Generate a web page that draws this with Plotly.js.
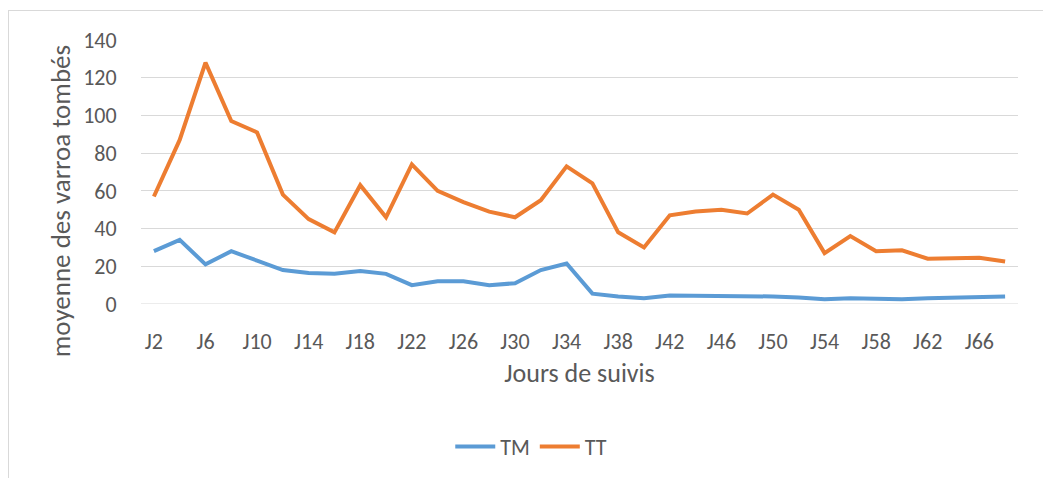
<!DOCTYPE html>
<html>
<head>
<meta charset="utf-8">
<script src="https://cdn.plot.ly/plotly-3.0.1.min.js"></script>
<style>
  body { margin: 0; background: #fff; }
  #frame { position: absolute; left: 8px; top: 10px; width: 1100px; height: 520px; border: 1px solid #d9d9d9; }
  #chart { position: absolute; left: 0; top: 0; width: 1043px; height: 478px; }
</style>
</head>
<body>
<div id="frame"></div>
<div id="chart"></div>
<script>
// days J2..J68, every 2 days
const days = ['J2','J4','J6','J8','J10','J12','J14','J16','J18','J20','J22','J24','J26','J28','J30','J32','J34',
  'J36','J38','J40','J42','J44','J46','J48','J50','J52','J54','J56','J58','J60','J62','J64','J66','J68'];
const tickDays = ['J2','J6','J10','J14','J18','J22','J26','J30','J34','J38','J42','J46','J50','J54','J58','J62','J66'];

const tm = [28, 34, 21, 28, 23, 18, 16.5, 16, 17.5, 16, 10, 12, 12, 10, 11, 18, 21.5,
  5.5, 4, 3, 4.5, 4.5, 4, 4, 4, 3.5, 2.5, 3, 2.5, 2.5, 3, 3.5, 3.5, 4];
const tt = [57, 87, 128, 97, 91, 58, 45, 38, 63, 46, 74, 60, 54, 49, 46, 55, 73,
  64, 38, 30, 47, 49, 50, 48, 58, 50, 27, 36, 28, 28.5, 24, 24.5, 24.5, 22.5];

const font = 'Carlito, Lato, "Open Sans", sans-serif';

Plotly.newPlot('chart', [
  { x: days, y: tm, mode: 'lines', name: 'TM', line: { color: '#5b9bd5', width: 4 } },
  { x: days, y: tt, mode: 'lines', name: 'TT', line: { color: '#ed7d31', width: 4 } },
], {
  width: 1043, height: 478,
  margin: { l: 141, r: 25, t: 40, b: 173 },
  paper_bgcolor: 'rgba(0,0,0,0)', plot_bgcolor: '#fff',
  font: { family: font, size: 22, color: '#595959' },
  xaxis: {
    type: 'category', range: [-0.5, 33.5],
    tickvals: tickDays, ticktext: tickDays,
    showgrid: false, zeroline: false, showline: false,
    ticks: 'outside', ticklen: 18, tickcolor: 'rgba(0,0,0,0)',
    title: { text: 'Jours de suivis', font: { size: 26, color: '#595959' }, standoff: 9 },
  },
  yaxis: {
    range: [0, 140], dtick: 20,
    gridcolor: '#d9d9d9', gridwidth: 1, zeroline: false, showline: false,
    ticks: 'outside', ticklen: 19, tickcolor: 'rgba(0,0,0,0)',
  },
  annotations: [{ text: 'moyenne des varroa tombés', textangle: -90, showarrow: false,
    xref: 'paper', yref: 'paper', x: -0.0924, y: 0.389, xanchor: 'center', yanchor: 'middle',
    font: { size: 27, color: '#595959' } }],
  legend: { orientation: 'h', x: 0.445, xanchor: 'center', y: -0.535, yanchor: 'middle',
    font: { size: 22, color: '#595959' }, itemwidth: 40 },
  shapes: [{ type: 'line', xref: 'paper', yref: 'y', x0: 0, x1: 1, y0: 0, y1: 0,
    line: { color: '#d9d9d9', width: 1 }, layer: 'below' }],
}, { displayModeBar: false, staticPlot: true });
</script>
</body>
</html>
